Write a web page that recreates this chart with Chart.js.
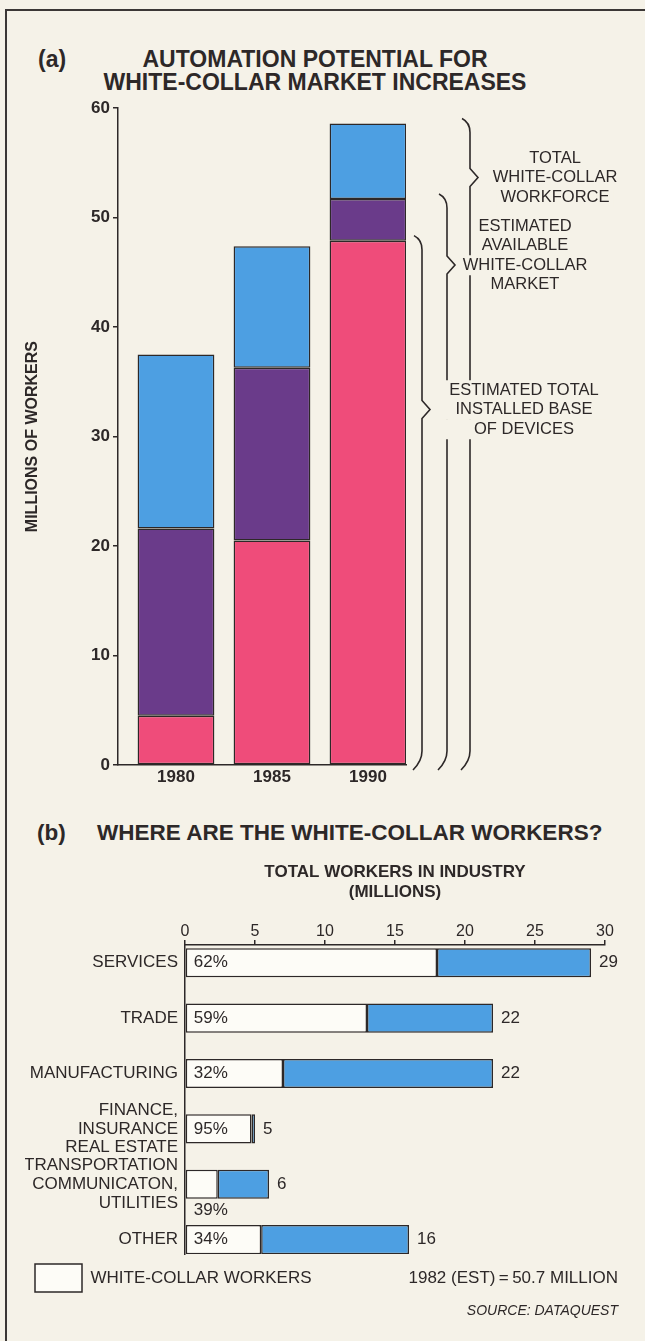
<!DOCTYPE html>
<html>
<head>
<meta charset="utf-8">
<title>White-collar workers</title>
<script src="https://cdn.jsdelivr.net/npm/chart.js@4.4.1/dist/chart.umd.min.js"></script>
<style>
  html, body { margin: 0; padding: 0; background: #f5f2e8; }
  body { width: 645px; height: 1341px; position: relative; overflow: hidden;
         font-family: "Liberation Sans", Arial, sans-serif; color: #2d2828; }
  .frame { position: absolute; left: 5px; top: 9px; right: -10px; bottom: -10px;
           border-left: 2px solid #3b3736; border-top: 2px solid #3b3736; }
  .txt { position: absolute; white-space: nowrap; line-height: 1; }
  .h { font-weight: bold; font-size: 22.5px; }
  .ha { font-weight: bold; font-size: 23px; }
  .center { left: 0; width: 630px; text-align: center; }
  #chartA { position: absolute; left: 0; top: 95px; }
  #chartB { position: absolute; left: 0; top: 850px; }
</style>
</head>
<body>
<div class="frame"></div>

<div class="txt ha" style="left:38px; top:48px;">(a)</div>
<div class="txt ha center" style="top:48px;">AUTOMATION POTENTIAL FOR</div>
<div class="txt ha center" style="top:71px;">WHITE-COLLAR MARKET INCREASES</div>
<canvas id="chartA" width="645" height="700"></canvas>

<div class="txt h" style="left:37px; top:822px;">(b)</div>
<div class="txt h" style="left:97px; top:822px;">WHERE ARE THE WHITE-COLLAR WORKERS?</div>
<canvas id="chartB" width="645" height="452"></canvas>

<div class="txt" style="right:27px; top:1269px; font-size:17px;">1982 (EST)&#8201;=&#8201;50.7 MILLION</div>
<div class="txt" style="right:27px; top:1303px; font-size:14px; font-style:italic;">SOURCE: DATAQUEST</div>

<script>
// (a) số liệu theo năm, triệu người
const years = [1980, 1985, 1990];
const installedBase = [4.5, 20.5, 47.9];
// tổng số thiết bị đã lắp
const availableMarket = [21.6, 36.3, 51.7];
// thị trường white-collar có thể bán
const totalWorkforce = [37.5, 47.4, 58.6];
// tổng lực lượng white-collar
const yTicksA = [0, 10, 20, 30, 40, 50, 60];

// (b) số người theo ngành, triệu người
const industries = [
  ["SERVICES"],
  ["TRADE"],
  ["MANUFACTURING"],
  ["FINANCE,", "INSURANCE", "REAL ESTATE"],
  ["TRANSPORTATION", "COMMUNICATON,", "UTILITIES"],
  ["OTHER"],
];
const totalWorkers = [29, 22, 22, 5, 6, 16];
const whiteCollarPct = [62, 59, 32, 95, 39, 34];
const whiteCollarWorkers = [18, 13, 7, 4.75, 2.34, 5.44];
const xTicksB = [0, 5, 10, 15, 20, 25, 30];

const INK = "#2d2828";
const BLUE = "#4d9fe2";
const PURPLE = "#6a3b8a";
const PINK = "#ef4c7a";
const PAPER = "#f5f2e8";
const WHITE = "#fdfcf7";
const FONT = '"Liberation Sans", Arial, sans-serif';

Chart.defaults.font.family = FONT;
Chart.defaults.color = INK;

// ngoặc nhọn bên phải biểu đồ (a) + chữ chú thích
const braceLayout = [
  { top: totalWorkforce[2], dx: 64, tipLine: 1, textX: 555, lineY: 63,
    lines: ["TOTAL", "WHITE-COLLAR", "WORKFORCE"] },
  { top: availableMarket[2], dx: 41, tipLine: 2, textX: 525, lineY: 131,
    lines: ["ESTIMATED", "AVAILABLE", "WHITE-COLLAR", "MARKET"] },
  { top: installedBase[2], dx: 16, tipLine: 1, textX: 524, lineY: 295, solid: true,
    lines: ["ESTIMATED TOTAL", "INSTALLED BASE", "OF DEVICES"] },
];
const LINE_GAP = 19.5;

const bracePlugin = {
  id: "braces",
  afterDraw(chart) {
    const ctx = chart.ctx;
    const y = chart.scales.y;
    const right = chart.chartArea.right;
    ctx.save();
    ctx.strokeStyle = INK;
    ctx.lineWidth = 1.6;
    braceLayout.forEach(b => {
      const x = right + b.dx;
      const yTop = y.getPixelForValue(b.top) - 5;
      const yBot = y.getPixelForValue(0);
      const yTip = b.lineY + b.tipLine * LINE_GAP;
      ctx.beginPath();
      ctx.moveTo(x - 8, yTop);
      ctx.quadraticCurveTo(x, yTop + 4, x, yTop + 14);
      ctx.lineTo(x, yTip - 9);
      ctx.lineTo(x + 8, yTip);
      ctx.lineTo(x, yTip + 9);
      ctx.lineTo(x, yBot - 14);
      ctx.quadraticCurveTo(x, yBot - 4, x - 9, yBot + 5);
      ctx.stroke();
    });
    // chữ đè lên đường kẻ nên xoá nền trước
    ctx.font = "16.5px " + FONT;
    ctx.textAlign = "center";
    ctx.textBaseline = "middle";
    braceLayout.forEach(b => {
      const widths = b.lines.map(t => ctx.measureText(t).width);
      const maxW = Math.max(...widths);
      ctx.fillStyle = PAPER;
      b.lines.forEach((t, k) => {
        const w = b.solid ? maxW + 16 : widths[k] + 8;
        ctx.fillRect(b.textX - w / 2, b.lineY + k * LINE_GAP - LINE_GAP / 2, w, LINE_GAP + 0.5);
      });
      ctx.fillStyle = INK;
      b.lines.forEach((t, k) => ctx.fillText(t, b.textX, b.lineY + k * LINE_GAP));
    });
    ctx.restore();
  },
};

const chartA = new Chart(document.getElementById("chartA"), {
  type: "bar",
  data: {
    datasets: [
      { label: "installed", backgroundColor: PINK,
        data: years.map((yr, i) => ({ x: yr, y: [0, installedBase[i]] })) },
      { label: "available", backgroundColor: PURPLE,
        data: years.map((yr, i) => ({ x: yr, y: [installedBase[i], availableMarket[i]] })) },
      { label: "total", backgroundColor: BLUE,
        data: years.map((yr, i) => ({ x: yr, y: [availableMarket[i], totalWorkforce[i]] })) },
    ],
  },
  options: {
    responsive: false,
    animation: false,
    layout: { padding: { left: 19, top: 13, right: 239, bottom: 4 } },
    datasets: {
      bar: { grouped: false, barPercentage: 0.8, categoryPercentage: 1,
             borderColor: INK, borderWidth: 1.5, borderSkipped: false },
    },
    plugins: { legend: { display: false }, tooltip: { enabled: false } },
    scales: {
      x: {
        type: "linear",
        offset: false,
        min: years[0] - 3.02,
        max: years[2] + 1.98,
        afterBuildTicks: s => { s.ticks = years.map(v => ({ value: v })); },
        afterFit: s => { s.height = 26; },
        grid: { display: false, drawTicks: false, offset: false },
        border: { display: true, color: INK, width: 1.5 },
        ticks: { padding: 2, color: INK, autoSkip: false, font: { size: 17, weight: "bold" },
                 callback: v => String(v) },
      },
      y: {
        min: 0,
        max: 60,
        afterBuildTicks: s => { s.ticks = yTicksA.map(v => ({ value: v })); },
        afterFit: s => { s.width = 99; },
        grid: { drawOnChartArea: false, tickLength: 5, color: INK, lineWidth: 1.5 },
        border: { display: true, color: INK, width: 1.5 },
        ticks: { padding: 3, color: INK, font: { size: 17, weight: "bold" } },
        title: { display: true, text: "MILLIONS OF WORKERS", color: INK,
                 font: { size: 16, weight: "bold" }, padding: { top: 4 } },
      },
    },
  },
  plugins: [bracePlugin],
});

// số tổng ở cuối thanh và % white-collar trong phần trắng
const barLabelPlugin = {
  id: "barLabels",
  afterDatasetsDraw(chart) {
    const ctx = chart.ctx;
    const white = chart.getDatasetMeta(0).data;
    const rest = chart.getDatasetMeta(1).data;
    ctx.save();
    ctx.fillStyle = INK;
    ctx.font = "17px " + FONT;
    ctx.textBaseline = "middle";
    ctx.textAlign = "left";
    industries.forEach((name, i) => {
      const w = white[i];
      const r = rest[i];
      ctx.fillText(String(totalWorkers[i]), r.x + 8, r.y);
      const pct = whiteCollarPct[i] + "%";
      const tw = ctx.measureText(pct).width;
      if (w.x - w.base > tw + 14) {
        ctx.fillText(pct, w.base + 8, w.y);
      } else {
        ctx.fillText(pct, w.base + 8, w.y + w.height / 2 + 12);
        // phần trắng hẹp quá thì ghi xuống dưới
      }
    });
    ctx.restore();
  },
};

const chartB = new Chart(document.getElementById("chartB"), {
  type: "bar",
  data: {
    datasets: [
      { label: "WHITE-COLLAR WORKERS", backgroundColor: WHITE,
        data: industries.map((n, i) => ({ y: i, x: [0, whiteCollarWorkers[i]] })) },
      { label: "others", backgroundColor: BLUE,
        data: industries.map((n, i) => ({ y: i, x: [whiteCollarWorkers[i], totalWorkers[i]] })) },
    ],
  },
  options: {
    indexAxis: "y",
    responsive: false,
    animation: false,
    layout: { padding: { left: 25, top: 12, right: 40, bottom: 0 } },
    datasets: {
      bar: { grouped: false, barPercentage: 0.525, categoryPercentage: 1,
             borderColor: INK, borderWidth: 1.5, borderSkipped: false },
    },
    plugins: {
      legend: {
        position: "bottom",
        align: "start",
        labels: { filter: item => item.datasetIndex === 0, boxWidth: 47, boxHeight: 28,
                  padding: 10, color: INK, font: { size: 17 } },
      },
      tooltip: { enabled: false },
    },
    scales: {
      x: {
        type: "linear",
        position: "top",
        min: 0,
        max: 30,
        afterBuildTicks: s => { s.ticks = xTicksB.map(v => ({ value: v })); },
        afterFit: s => { s.height = 83; },
        grid: { drawOnChartArea: false, tickLength: 5, color: INK, lineWidth: 1.5 },
        border: { display: true, color: INK, width: 1.5 },
        ticks: { padding: 0, color: INK, font: { size: 16, lineHeight: 1 } },
        title: { display: true, text: ["TOTAL WORKERS IN INDUSTRY", "(MILLIONS)"], color: INK,
                 font: { size: 17, weight: "bold" }, padding: 0 },
      },
      y: {
        type: "linear",
        offset: false,
        reverse: true,
        min: -0.32,
        max: 5.26,
        afterBuildTicks: s => { s.ticks = industries.map((n, i) => ({ value: i })); },
        afterFit: s => { s.width = 160; },
        grid: { display: false, drawTicks: false, offset: false },
        border: { display: true, color: INK, width: 1.5 },
        ticks: { padding: 7, color: INK, autoSkip: false, font: { size: 17, lineHeight: 1.1 },
                 callback: v => industries[v] },
      },
    },
  },
  plugins: [barLabelPlugin],
});
</script>
</body>
</html>
